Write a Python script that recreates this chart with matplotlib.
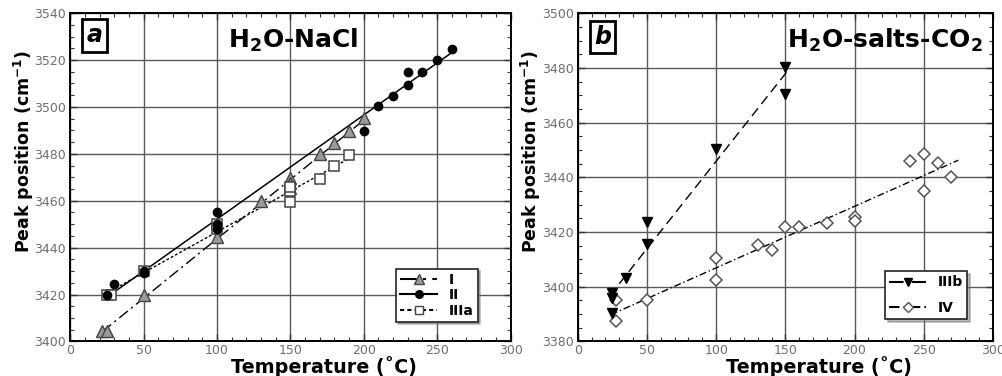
import numpy as np
import matplotlib
matplotlib.use("Agg")
from matplotlib import pyplot as plt
from matplotlib.ticker import MultipleLocator

plt.rcParams["font.family"] = ["DejaVu Sans"]
plt.rcParams["mathtext.default"] = "bf"

# ---- panel a : H2O-NaCl ----
t_I = [22, 25, 50, 100, 130, 150, 150, 150, 170, 180, 190, 200]
p_I = [3404.5, 3404.5, 3420, 3444.5, 3459.7, 3469.6, 3467.5, 3465.4, 3480, 3484.6, 3489.8, 3495.2]

t_II = [25, 30, 50, 50, 100, 100, 100, 200, 210, 220, 230, 230, 240, 250, 260]
p_II = [3420, 3424.4, 3430, 3429, 3455.1, 3450, 3448, 3489.8, 3500.2, 3504.7, 3515, 3509.2, 3515, 3520, 3524.9]

t_IIIa = [25, 28, 50, 100, 100, 150, 150, 150, 170, 180, 190]
p_IIIa = [3420, 3420, 3430, 3450, 3448, 3459.4, 3464, 3466, 3469.4, 3474.6, 3479.5]

# ---- panel b : H2O-salts-CO2 ----
t_IIIb = [25, 25, 25, 35, 50, 50, 100, 150, 150]
p_IIIb = [3397.7, 3395.8, 3390.4, 3403.1, 3423.5, 3415.6, 3450.3, 3480.5, 3470.4]

t_IV = [28, 28, 50, 100, 100, 130, 140, 150, 160, 180, 200, 200, 240, 250, 250, 260, 270]
p_IV = [3395.2, 3387.3, 3395.2, 3410.5, 3402.3, 3415.3, 3413.3, 3422, 3421.8, 3423.2, 3425.3, 3424, 3446.1, 3448.5, 3435, 3445.2, 3440]

# x-range over which each regression line is drawn
fit_I = [22, 200]
fit_II = [30, 260]
fit_IIIa = [28, 190]
fit_IIIb = [30, 152]
fit_IV = [24, 275]

DASHDOT = (0, (8, 3, 1.5, 3))
DOTTED = (0, (2, 1.5))
DASHED = (0, (7, 4))
DASHDOT2 = (0, (5, 2, 1, 2))

fig = plt.figure(figsize=(10.03, 3.76), dpi=100)
ax_a = fig.add_axes([0.070, 0.092, 0.439, 0.873])
ax_b = fig.add_axes([0.576, 0.092, 0.414, 0.873])


def style_axes(ax, ylim, xlab_x, ylab_x):
    ax.set_xlim(0, 300)
    ax.set_ylim(*ylim)
    ax.xaxis.set_major_locator(MultipleLocator(50))
    ax.xaxis.set_minor_locator(MultipleLocator(10))
    ax.yaxis.set_major_locator(MultipleLocator(20))
    ax.yaxis.set_minor_locator(MultipleLocator(5))
    ax.grid(True, which="major", color="#5a5a5a", linewidth=1.0)
    ax.set_axisbelow(True)
    ax.tick_params(which="both", direction="in", top=True, right=True,
                   labelsize=9, labelcolor="#6e6e6e", color="#333333", pad=3)
    ax.tick_params(axis="x", pad=2)
    ax.tick_params(which="major", length=5, width=1)
    ax.tick_params(which="minor", length=3, width=0.8)
    for s in ax.spines.values():
        s.set_linewidth(1.4)
    ax.set_xlabel("Temperature (\u02daC)", fontsize=13.8, fontweight="bold")
    ax.xaxis.set_label_coords(xlab_x, -0.046)
    ax.set_ylabel("Peak position (cm$^{-1}$)", fontsize=12.5, fontweight="bold")
    ax.yaxis.set_label_coords(ylab_x, 0.578)


def fit_line(ax, t, p, rng, **kw):
    k, b = np.polyfit(t, p, 1)
    x = np.array(rng, dtype=float)
    ax.plot(x, k * x + b, color="black", zorder=2, **kw)


def panel_tag(ax, letter, x, y):
    ax.text(x, y, letter, transform=ax.transAxes, fontsize=17,
            fontweight="bold", style="italic", ha="center", va="center",
            bbox=dict(boxstyle="square,pad=0.18", fc="white", ec="black", lw=2.0),
            zorder=5)


def legend(ax, anchor, spacing):
    leg = ax.legend(loc="lower right", bbox_to_anchor=anchor, frameon=True,
                    fancybox=False, shadow={"color": "#777777"}, handlelength=2.7,
                    prop={"weight": "bold", "size": 10}, borderpad=0.3,
                    labelspacing=spacing, handletextpad=0.8, borderaxespad=0)
    leg.get_frame().set_edgecolor("#222222")
    leg.get_frame().set_linewidth(1.2)


# panel a
style_axes(ax_a, (3400, 3540), 0.577, -0.078)
fit_line(ax_a, t_I, p_I, fit_I, linestyle=DASHDOT, lw=1.0)
fit_line(ax_a, t_II, p_II, fit_II, linestyle="-", lw=1.1)
fit_line(ax_a, t_IIIa, p_IIIa, fit_IIIa, linestyle=DOTTED, lw=1.0)
ax_a.plot(t_I, p_I, "^", ms=8.5, mfc="#9a9a9a", mec="#444444", mew=1.0, zorder=3)
ax_a.plot(t_II, p_II, "o", ms=6, mfc="black", mec="black", zorder=4)
ax_a.plot(t_IIIa, p_IIIa, "s", ms=7.5, mfc="white", mec="#444444", mew=1.1, zorder=3)
# legend proxies
ax_a.plot([], [], linestyle=DASHDOT, color="black", marker="^", ms=7,
          mfc="#9a9a9a", mec="#444444", label="I")
ax_a.plot([], [], linestyle="-", color="black", marker="o", ms=5.5, mfc="black", label="II")
ax_a.plot([], [], linestyle=DOTTED, color="black", marker="s", ms=6,
          mfc="white", mec="#444444", label="IIIa")
legend(ax_a, (0.925, 0.06), 0.1)
panel_tag(ax_a, "a", 0.055, 0.932)
ax_a.text(0.506, 0.8945, "H$_{2}$O-NaCl", transform=ax_a.transAxes,
          fontsize=18, fontweight="bold", ha="center", va="baseline", zorder=5)

# panel b
style_axes(ax_b, (3380, 3500), 0.582, -0.083)
fit_line(ax_b, t_IIIb, p_IIIb, fit_IIIb, linestyle=DASHED, lw=1.0)
fit_line(ax_b, t_IV, p_IV, fit_IV, linestyle=DASHDOT2, lw=1.0)
ax_b.plot(t_IIIb, p_IIIb, "v", ms=7, mfc="black", mec="black", zorder=4)
ax_b.plot(t_IV, p_IV, "D", ms=6, mfc="white", mec="#555555", mew=1.1, zorder=3)
ax_b.plot([], [], linestyle=DASHED, color="black", marker="v", ms=6,
          mfc="black", label="IIIb")
ax_b.plot([], [], linestyle=DASHDOT2, color="black", marker="D", ms=5.5,
          mfc="white", mec="#555555", label="IV")
legend(ax_b, (0.9375, 0.067), 0.85)
panel_tag(ax_b, "b", 0.06, 0.927)
ax_b.text(0.974, 0.8945, "H$_{2}$O-salts-CO$_{2}$", transform=ax_b.transAxes,
          fontsize=18, fontweight="bold", ha="right", va="baseline", zorder=5)

fig.savefig("out.png", dpi=100)
